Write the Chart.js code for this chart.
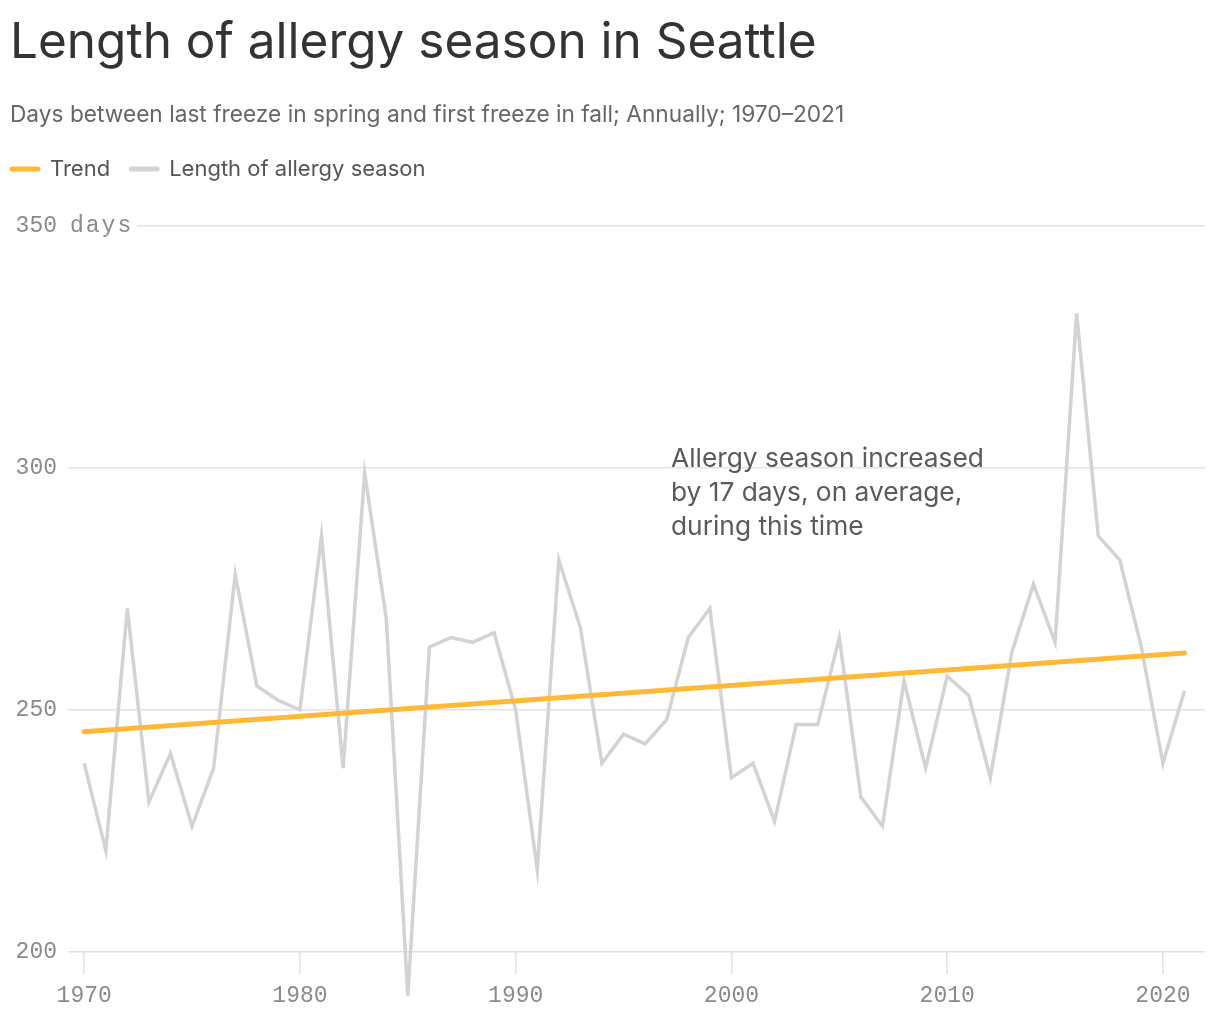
<!DOCTYPE html>
<html>
<head>
<meta charset="utf-8">
<script src="https://cdn.jsdelivr.net/npm/chart.js@4/dist/chart.umd.min.js"></script>
<style>
  body { margin: 0; background: #fff; }
  #wrap { width: 1220px; height: 1020px; }
</style>
</head>
<body>
<div id="wrap"><canvas id="Canvas1"></canvas></div>
<script>
// data
var years = [1970, 1971, 1972, 1973, 1974, 1975, 1976, 1977, 1978, 1979,
             1980, 1981, 1982, 1983, 1984, 1985, 1986, 1987, 1988, 1989,
             1990, 1991, 1992, 1993, 1994, 1995, 1996, 1997, 1998, 1999,
             2000, 2001, 2002, 2003, 2004, 2005, 2006, 2007, 2008, 2009,
             2010, 2011, 2012, 2013, 2014, 2015, 2016, 2017, 2018, 2019,
             2020, 2021];
var seasonDays = [239, 221, 271, 231, 241, 226, 238, 278, 255, 252,
                  250, 286, 238, 299, 269, 191, 263, 265, 264, 266,
                  250, 217, 281, 267, 239, 245, 243, 248, 265, 271,
                  236, 239, 227, 247, 247, 265, 232, 226, 256, 238,
                  257, 253, 236, 262, 276, 264, 332, 286, 281, 263,
                  239, 254];
var trendYears = [1970, 2021];
var trendDays = [245.5, 261.8];
var xTicks = [1970, 1980, 1990, 2000, 2010, 2020];
var yTicks = [200, 250, 300, 350];
var yUnit = 'days';
var noteLines = ['Allergy season increased', 'by 17 days, on average,', 'during this time'];

Chart.defaults.font.family = 'Inter';

var tickFont = { family: 'Liberation Mono', size: 23 };

// legend drawn as short lines in front of the labels
var lineLegend = {
    id: 'lineLegend',
    afterDraw: function (chart) {
        var ctx = chart.ctx;
        var x = 10, y = 169;
        ctx.save();
        ctx.font = '22px Inter';
        ctx.textBaseline = 'middle';
        chart.data.datasets.forEach(function (ds) {
            ctx.strokeStyle = ds.borderColor;
            ctx.lineWidth = 5;
            ctx.lineCap = 'round';
            ctx.beginPath();
            ctx.moveTo(x + 2, y);
            ctx.lineTo(x + 28, y);
            ctx.stroke();
            ctx.fillStyle = '#555';
            ctx.fillText(ds.label, x + 40, y);
            x += 40 + ctx.measureText(ds.label).width + 19;
        });
        ctx.restore();
    }
};

// unit after the top tick + note about the trend
var extras = {
    id: 'extras',
    beforeDatasetsDraw: function (chart) {
        var ctx = chart.ctx;
        var xs = chart.scales.x, ys = chart.scales.y;
        var topY = ys.getPixelForValue(yTicks[yTicks.length - 1]);
        ctx.save();
        ctx.font = '23px Liberation Mono';
        ctx.letterSpacing = '2px';
        ctx.textBaseline = 'middle';
        var ux = chart.chartArea.left + 2;
        ctx.fillStyle = '#fff';
        ctx.fillRect(chart.chartArea.left - 2, topY - 4, ctx.measureText(yUnit).width + 8, 8);
        ctx.fillStyle = '#8a8a8a';
        ctx.fillText(yUnit, ux, topY);
        ctx.letterSpacing = '0px';

        var left = xs.getPixelForValue(1997.2);
        var top = ys.getPixelForValue(300) - 9;
        ctx.font = '26.3px Inter';
        ctx.fillStyle = '#fff';
        ctx.fillRect(left - 6, top - 8, ctx.measureText(noteLines[0]).width + 10, 16);
        ctx.fillStyle = '#5a5a5a';
        noteLines.forEach(function (t, i) {
            ctx.fillText(t, left, top + i * 34);
        });
        ctx.restore();
    }
};

var GKChart = document.getElementById('Canvas1').getContext('2d');

var myChart = new Chart(GKChart, {
    type: 'line',
    data: {
        datasets: [{
            label: 'Trend',
            data: trendYears.map(function (yr, i) { return { x: yr, y: trendDays[i] }; }),
            borderColor: '#ffb936',
            borderWidth: 5,
            borderCapStyle: 'round',
            pointRadius: 0,
            clip: false
        }, {
            label: 'Length of allergy season',
            data: years.map(function (yr, i) { return { x: yr, y: seasonDays[i] }; }),
            borderColor: '#d3d3d3',
            borderWidth: 3.5,
            borderJoinStyle: 'miter',
            pointRadius: 0,
            clip: false
        }]
    },
    options: {
        responsive: true,
        maintainAspectRatio: false,
        animation: false,
        layout: { padding: { left: 10, right: 15, top: 0, bottom: 10 } },
        plugins: {
            legend: { display: false },
            tooltip: { enabled: false },
            title: {
                display: true,
                text: 'Length of allergy season in Seattle',
                align: 'start',
                color: '#333',
                font: { size: 49.5, weight: 400 },
                padding: { top: 13, bottom: 14 }
            },
            subtitle: {
                display: true,
                text: 'Days between last freeze in spring and first freeze in fall; Annually; 1970\u20132021',
                align: 'start',
                color: '#666',
                font: { size: 22.7 },
                padding: { top: 15.5, bottom: 97 }
            }
        },
        scales: {
            x: {
                type: 'linear',
                min: 1969.25,
                max: 2021.95,
                afterBuildTicks: function (s) { s.ticks = xTicks.map(function (v) { return { value: v }; }); },
                afterFit: function (s) { s.height = 58; },
                ticks: {
                    color: '#8a8a8a',
                    font: tickFont,
                    padding: 8,
                    maxRotation: 0,
                    callback: function (v) { return String(v); }
                },
                grid: {
                    drawOnChartArea: false,
                    tickLength: 22,
                    color: '#e2e2e2',
                    lineWidth: 1.5
                },
                border: { display: false }
            },
            y: {
                min: 200,
                max: 350,
                afterBuildTicks: function (s) { s.ticks = yTicks.map(function (v) { return { value: v }; }); },
                afterFit: function (s) { s.width = 58; },
                ticks: {
                    color: '#8a8a8a',
                    font: tickFont,
                    crossAlign: 'near',
                    padding: 11,
                    callback: function (v) { return String(v); }
                },
                grid: {
                    drawTicks: false,
                    color: '#e2e2e2',
                    lineWidth: 1.5
                },
                border: { display: false }
            }
        }
    },
    plugins: [lineLegend, extras]
});
</script>
</body>
</html>
